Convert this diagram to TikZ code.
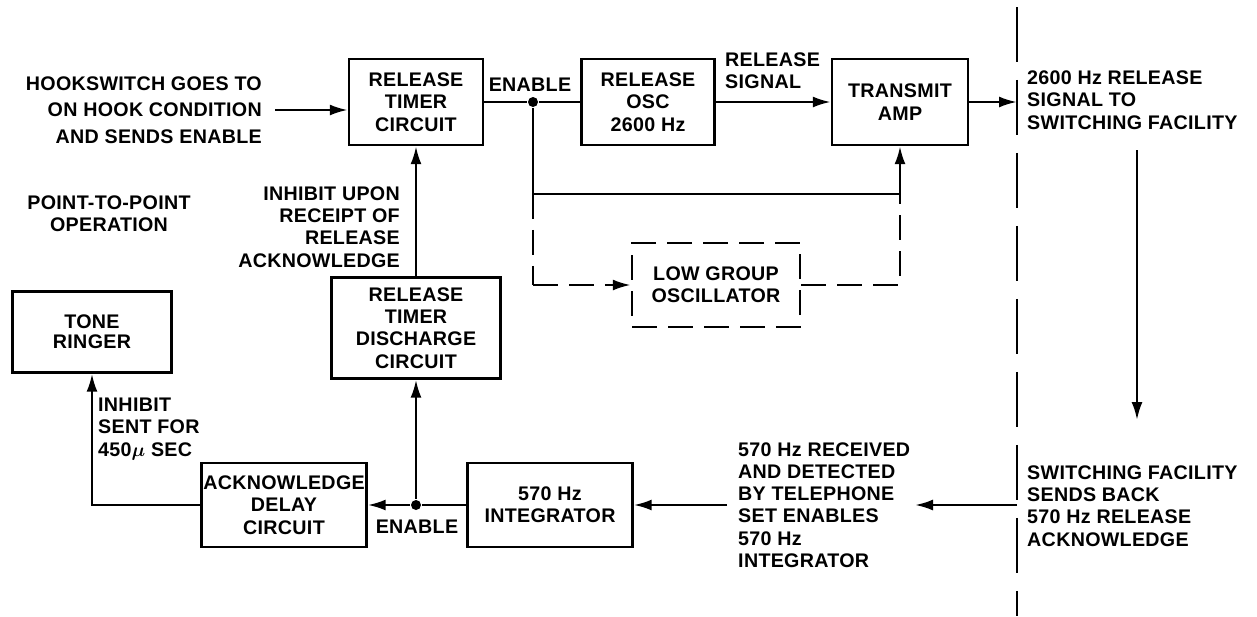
\documentclass[tikz,border=0pt]{standalone}
\usepackage{bm}
\usepackage{fontspec}
\setmainfont{Liberation Sans}[LetterSpace=1.5]
\usetikzlibrary{arrows.meta}

\begin{document}
\begin{tikzpicture}[x=0.02cm, y=-0.02cm, line width=1.4pt,
    font=\fontsize{11.2}{12.7}\selectfont\bfseries,
    block/.style={draw, align=center, inner sep=0pt},
    txt/.style={inner sep=0pt},
    dot/.style={circle, fill, inner sep=0pt, minimum size=0.2cm},
    arr/.style={-{Latex[length=0.36cm, width=0.22cm]}},
    lowdash/.style={dash pattern=on 0.5cm off 0.22cm}]
    \useasboundingbox (0,0) rectangle (1257,616);
    % upper row
    \node[block, minimum width=2.68cm, minimum height=1.72cm] (timer) at (416,102) {RELEASE\\TIMER\\CIRCUIT};
    \node[block, minimum width=2.66cm, minimum height=1.72cm] (osc) at (648,102) {RELEASE\\OSC\\2600 Hz};
    \node[block, minimum width=2.72cm, minimum height=1.72cm] (amp) at (900,102) {TRANSMIT\\AMP};
    \node[block, lowdash, minimum width=3.36cm, minimum height=1.68cm] (lowgrp) at (716,285) {LOW GROUP\\OSCILLATOR};
    \node[dot] (en1) at (533,102) {};
    \coordinate (j1) at (900,194);
    \coordinate (j2) at (533,194);
    \coordinate (j3) at (533,285);
    \coordinate (j4) at (900,285);
    \coordinate (sigout) at (1017,102);
    % lower row
    \node[block, minimum width=3.38cm, minimum height=2.02cm] (dis) at (416,328) {RELEASE\\TIMER\\DISCHARGE\\CIRCUIT};
    \node[block, font=\fontsize{11.2}{11.4}\selectfont\bfseries, minimum width=3.18cm, minimum height=1.62cm] (ringer) at (92,332) {TONE\\RINGER};
    \node[block, minimum width=3.3cm, minimum height=1.68cm] (ack) at (284,505) {ACKNOWLEDGE\\DELAY\\CIRCUIT};
    \node[block, minimum width=3.3cm, minimum height=1.68cm] (integ) at (550,505) {570 Hz\\INTEGRATOR};
    \node[dot] (en2) at (416,505) {};
    \coordinate (rcv) at (1017,505);
    \coordinate (rcvend) at (915,505);
    \coordinate (dn1) at (1137,150);
    \coordinate (dn2) at (1137,420);
    % labels
    \node[txt, align=right, anchor=east, font=\fontsize{11.2}{15}\selectfont\bfseries] (hook) at (263,110) {HOOKSWITCH GOES TO\\ON HOOK CONDITION\\AND SENDS ENABLE};
    \node[txt] (enlbl) at (530,85) {ENABLE};
    \node[txt, align=left, anchor=west] (relsig) at (724,71) {RELEASE\\SIGNAL};
    \node[txt, align=left, anchor=west] (sigtxt) at (1026,100) {2600 Hz RELEASE\\SIGNAL TO\\SWITCHING FACILITY};
    \node[txt, align=left, anchor=west] (backtxt) at (1026,506) {SWITCHING FACILITY\\SENDS BACK\\570 Hz RELEASE\\ACKNOWLEDGE};
    \node[txt, align=left, anchor=west] (rcvtxt) at (737,505) {570 Hz RECEIVED\\AND DETECTED\\BY TELEPHONE\\SET ENABLES\\570 Hz\\INTEGRATOR};
    \node[txt, align=right, anchor=east] (inhup) at (401,227) {INHIBIT UPON\\RECEIPT OF\\RELEASE\\ACKNOWLEDGE};
    \node[txt, align=center] (p2p) at (109,214) {POINT-TO-POINT\\OPERATION};
    \node[txt, align=left, anchor=west] (inhsent) at (97,429) {INHIBIT\\SENT FOR\\450$\bm{\mu}$ SEC};
    \node[txt] (en2lbl) at (417,527) {ENABLE};
    % telephone set / switching facility boundary
    \draw[dash pattern=on 1.1cm off 0.36cm] (1017,7) -- (1017,616);
    % release path
    \draw[arr] ([xshift=0.24cm]hook.east) -- (hook.east -| timer.west);
    \draw (timer) -- (en1) -- (osc);
    \draw[arr] (osc) -- (amp);
    \draw[arr] (amp) -- (sigout);
    \draw[arr] (en1) -- (j2) -- (j1) -- (amp);
    \draw[lowdash] (j2) -- (j3);
    \draw[arr, lowdash] (j3) -- (lowgrp);
    \draw[lowdash] (lowgrp) -- (j4) -- (j1);
    \draw[arr] (dn1) -- (dn2);
    % acknowledge path
    \draw[arr] (rcv) -- (rcvend);
    \draw[arr] ([xshift=-0.2cm]rcvtxt.west) -- (integ);
    \draw (integ) -- (en2);
    \draw[arr] (en2) -- (ack);
    \draw[arr] (en2) -- (dis);
    \draw[arr] (dis) -- (timer);
    \draw[arr] (ack) -| (ringer);
\end{tikzpicture}
\end{document}
